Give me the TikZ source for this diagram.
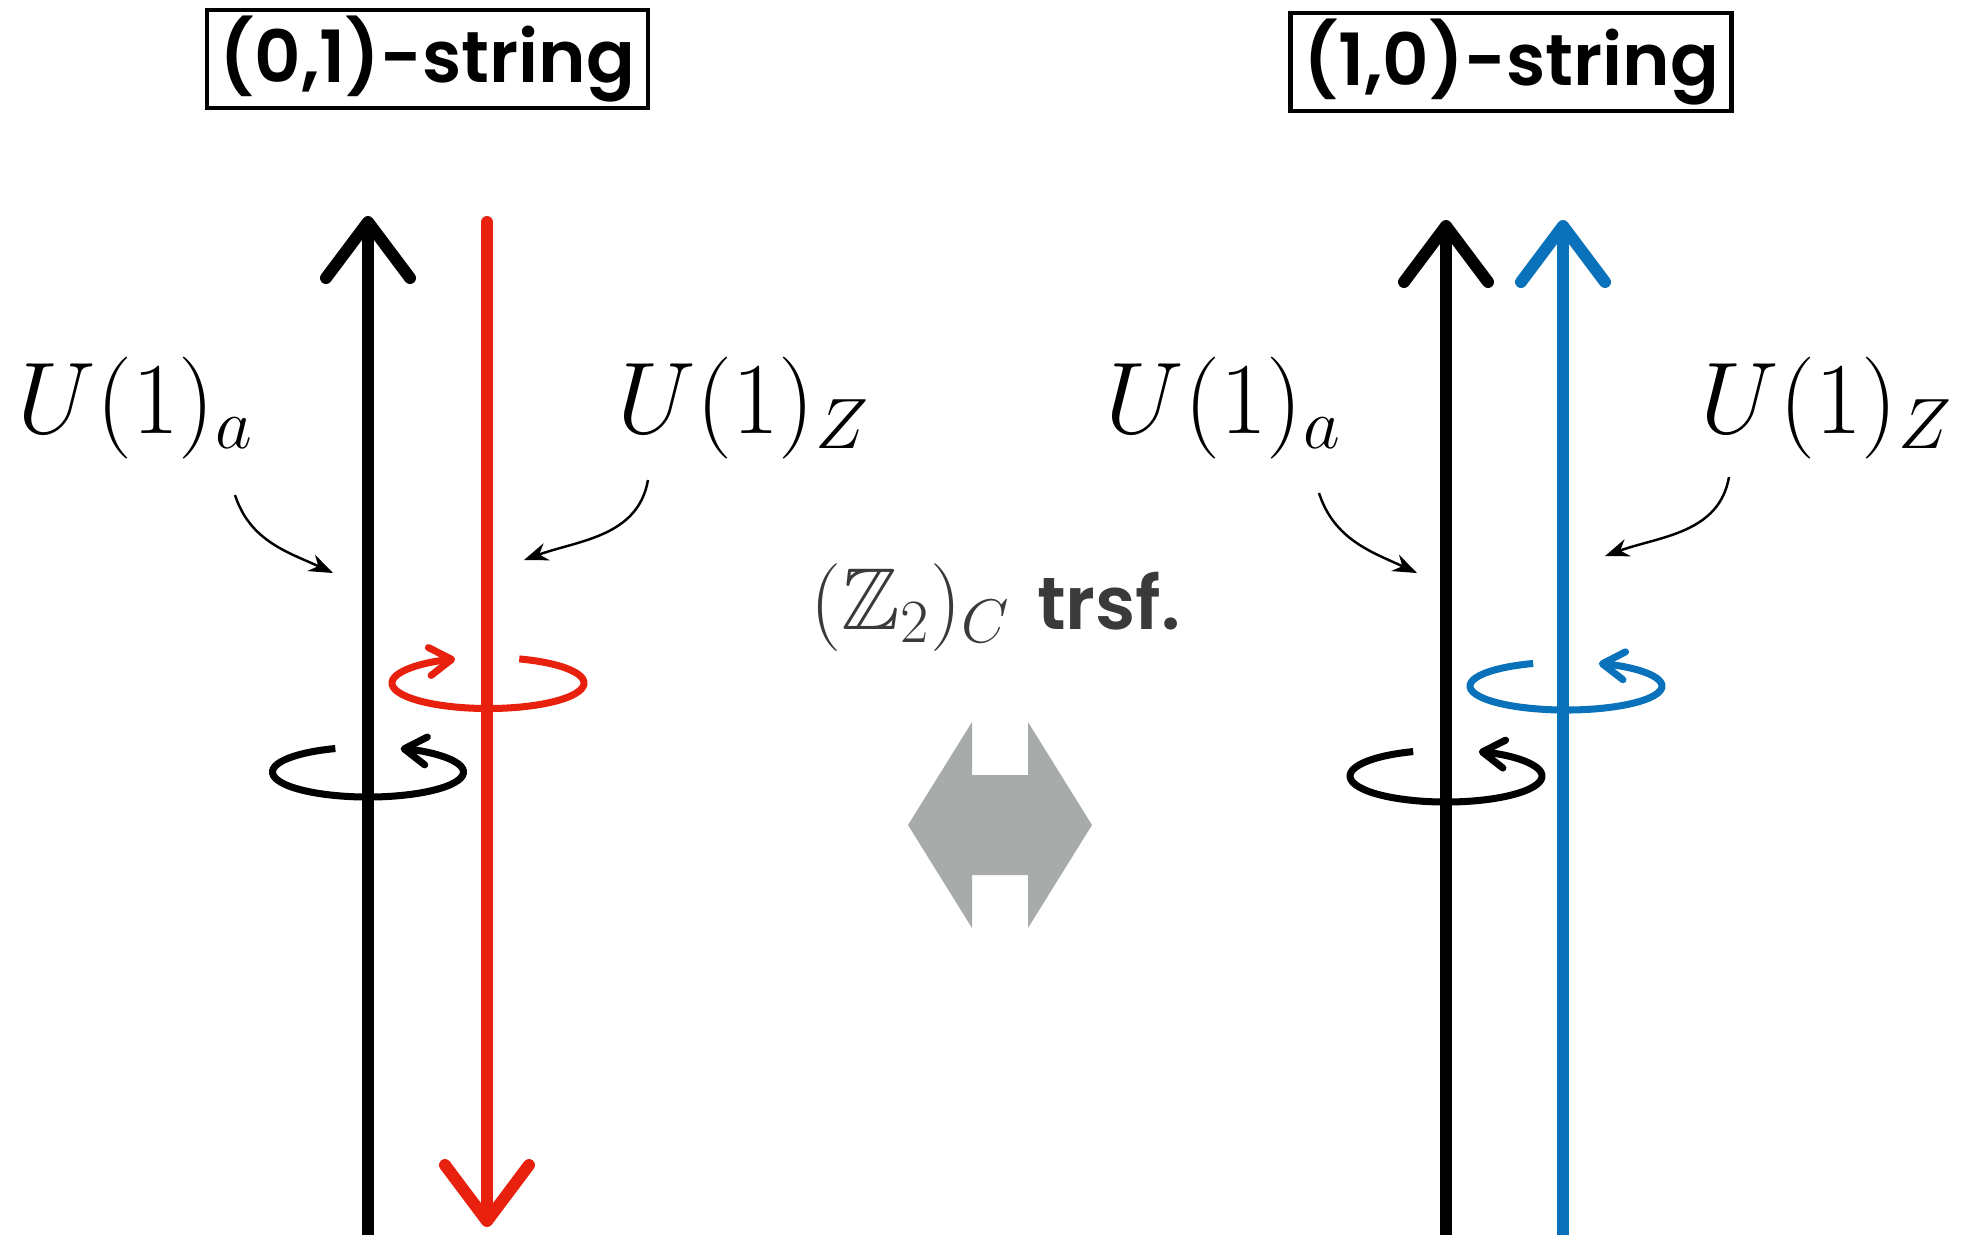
\RequirePackage{fix-cm}
\documentclass[tikz,border=0pt]{standalone}
\usepackage{amssymb}
\usepackage{fontspec}
\newfontfamily\boxfont{Poppins SemiBold}
\usetikzlibrary{arrows.meta,positioning}
\definecolor{stringred}{RGB}{232,32,14}
\definecolor{stringblue}{RGB}{10,114,186}
\definecolor{arrowgray}{RGB}{167,171,170}
\definecolor{labelgray}{RGB}{58,58,58}
\begin{document}
\begin{tikzpicture}[node distance=6.38cm, >={Stealth[length=2.4mm,width=1.8mm]}, every node/.style={inner sep=0pt},
        strand/.style={line width=3.4pt, line cap=round},
        chalktip/.style={-{Straight Barb[length=5.6mm,width=8.4mm,round]}},
        spin/.style={line width=2pt, -{Straight Barb[length=2.2mm,width=2.8mm,round]}},
        gauge/.style={anchor=base west, font=\fontsize{29}{34}\selectfont}]
        \useasboundingbox (0,0) rectangle (19.74,-12.34);
        \node[draw, line width=1.4pt, minimum width=4.41cm, minimum height=0.98cm, font=\boxfont\fontsize{20.5}{25}\selectfont] (s01) at (4.275,-0.59) {(0,1)-string};
        \node[draw, line width=1.4pt, minimum width=4.41cm, minimum height=0.98cm, font=\boxfont\fontsize{20.5}{25}\selectfont, right=of s01, yshift=-0.03cm] (s10) {(1,0)-string};
        \node[gauge] (ua1) at (0.17,-4.33) {$U(1)_a$};
        \node[gauge] (uz1) at (6.17,-4.33) {$U(1)_Z$};
        \node[gauge] (ua2) at (11.05,-4.33) {$U(1)_a$};
        \node[gauge] (uz2) at (17.00,-4.33) {$U(1)_Z$};
        \node[anchor=base west, text=labelgray, font=\fontsize{25}{30}\selectfont] (swap) at (8.10,-6.29) {$(\mathbb{Z}_2)_C$ {\boxfont\fontsize{21}{25}\selectfont trsf.}};
        \coordinate (a1bot) at (3.68,-12.45);
        \coordinate (a1top) at (3.68,-2.16);
        \coordinate (z1top) at (4.87,-2.22);
        \coordinate (z1bot) at (4.87,-12.27);
        \coordinate (a2bot) at (14.46,-12.45);
        \coordinate (a2top) at (14.46,-2.20);
        \coordinate (z2bot) at (15.63,-12.45);
        \coordinate (z2top) at (15.63,-2.20);
        \draw[strand, chalktip] (a1bot) -- (a1top);
        \draw[strand, stringred, chalktip] (z1top) -- (z1bot);
        \draw[strand, chalktip] (a2bot) -- (a2top);
        \draw[strand, stringblue, chalktip] (z2bot) -- (z2top);
        \coordinate (pa1) at (2.35,-4.95);
        \coordinate (ha1) at (3.33,-5.73);
        \coordinate (pz1) at (6.48,-4.80);
        \coordinate (hz1) at (5.24,-5.60);
        \coordinate (pa2) at (13.19,-4.93);
        \coordinate (ha2) at (14.17,-5.73);
        \coordinate (pz2) at (17.29,-4.77);
        \coordinate (hz2) at (16.05,-5.56);
        \draw[->, line width=0.7pt] (pa1) to[out=-72, in=155] (ha1);
        \draw[->, line width=0.7pt] (pz1) to[out=-100, in=20] (hz1);
        \draw[->, line width=0.7pt] (pa2) to[out=-72, in=155] (ha2);
        \draw[->, line width=0.7pt] (pz2) to[out=-100, in=20] (hz2);
        \coordinate (rz1) at (4.88,-6.83);
        \coordinate (ra1) at (3.68,-7.72);
        \coordinate (rz2) at (15.66,-6.86);
        \coordinate (ra2) at (14.46,-7.76);
        \draw[spin, stringred] ([shift={(71:0.96 and 0.255)}]rz1) arc[start angle=71, end angle=-250, x radius=0.96, y radius=0.255];
        \draw[spin] ([shift={(110:0.955 and 0.25)}]ra1) arc[start angle=110, end angle=430, x radius=0.955, y radius=0.25];
        \draw[spin, stringblue] ([shift={(110:0.96 and 0.24)}]rz2) arc[start angle=110, end angle=430, x radius=0.96, y radius=0.24];
        \draw[spin] ([shift={(110:0.96 and 0.26)}]ra2) arc[start angle=110, end angle=430, x radius=0.96, y radius=0.26];
        \fill[arrowgray] (9.08,-8.25) -- (9.72,-7.22) -- (9.72,-7.75) -- (10.28,-7.75) -- (10.28,-7.22) -- (10.92,-8.25) -- (10.28,-9.28) -- (10.28,-8.75) -- (9.72,-8.75) -- (9.72,-9.28) -- cycle;
    \end{tikzpicture}
\end{document}
